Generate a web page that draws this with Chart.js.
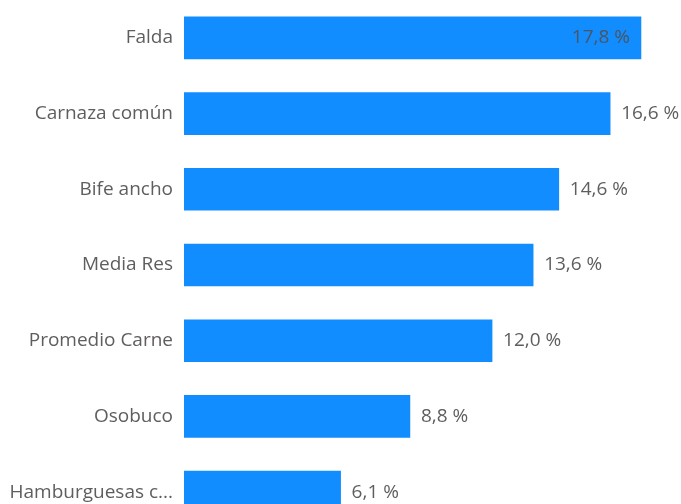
<!DOCTYPE html>
<html>
<head>
<meta charset="utf-8">
<script src="https://cdn.jsdelivr.net/npm/chart.js@4/dist/chart.umd.min.js"></script>
<style>
html,body{margin:0;padding:0;background:#fff;overflow:hidden;}
#wrap{width:681px;height:530px;}
</style>
</head>
<body>
<div id="wrap"><canvas id="c" width="681" height="530"></canvas></div>
<script>
const categories = ["Falda", "Carnaza común", "Bife ancho", "Media Res", "Promedio Carne", "Osobuco", "Hamburguesas c..."];
const values = [17.8, 16.6, 14.6, 13.6, 12.0, 8.8, 6.1];
const valueLabels = ["17,8 %", "16,6 %", "14,6 %", "13,6 %", "12,0 %", "8,8 %", "6,1 %"];

const FONT = "'Open Sans', 'Noto Sans', sans-serif";
const FSIZE = 19;

const labelPlugin = {
  id: 'valueLabels',
  afterDatasetsDraw(chart) {
    const ctx = chart.ctx;
    const meta = chart.getDatasetMeta(0);
    const area = chart.chartArea;
    ctx.save();
    ctx.font = FSIZE + "px " + FONT;
    ctx.textBaseline = 'middle';
    meta.data.forEach((bar, i) => {
      const txt = valueLabels[i];
      const w = ctx.measureText(txt).width;
      const pad = 11;
      if (bar.x + pad + w > area.right) {
        ctx.textAlign = 'right';
        ctx.fillStyle = '#4d5560';
        ctx.fillText(txt, bar.x - pad, bar.y);
      } else {
        ctx.textAlign = 'left';
        ctx.fillStyle = '#605E5C';
        ctx.fillText(txt, bar.x + pad, bar.y);
      }
    });
    ctx.restore();
  }
};

new Chart(document.getElementById('c'), {
  type: 'bar',
  data: {
    labels: categories,
    datasets: [{
      data: values,
      backgroundColor: '#118DFF',
      borderWidth: 0,
      barThickness: 42
    }]
  },
  options: {
    indexAxis: 'y',
    responsive: false,
    animation: false,
    layout: { padding: 0, autoPadding: false },
    plugins: { legend: { display: false }, tooltip: { enabled: false } },
    scales: {
      x: {
        display: false,
        min: 0,
        max: 19.36
      },
      y: {
        grid: { display: false, drawTicks: false },
        border: { display: false },
        ticks: {
          color: '#605E5C',
          padding: 11,
          font: { family: FONT, size: FSIZE }
        },
        afterFit(scale) {
          scale.width = 184;
          scale.paddingTop = 0;
          scale.paddingBottom = 0;
        }
      }
    }
  },
  plugins: [labelPlugin]
});
</script>
</body>
</html>
